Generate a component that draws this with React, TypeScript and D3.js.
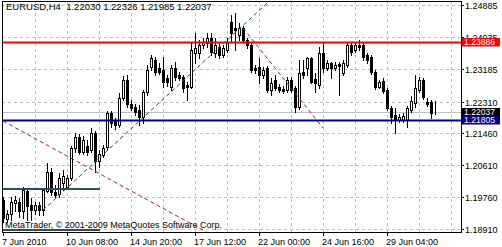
import React from "react";
import * as d3 from "d3";

const W = 502;
const H = 247;

const titleText = "EURUSD,H4  1.22030 1.22326 1.21985 1.22037";
const copyrightText = "MetaTrader, \u00A9 2001-2009 MetaQuotes Software Corp.";

// H4 candles, bar index 0..108
const opens = [
  1.19683, 1.19176, 1.1931, 1.19603, 1.1963, 1.1939, 1.19923, 1.1955, 1.19416, 1.1955,
  1.19416, 1.19923, 1.2043, 1.19897, 1.19843, 1.20137, 1.2003, 1.2027, 1.2107, 1.21364,
  1.20963, 1.21124, 1.21017, 1.2147, 1.20723, 1.20883, 1.21097, 1.22004, 1.2179, 1.21684,
  1.22404, 1.22884, 1.22244, 1.22164, 1.22084, 1.21897, 1.22564, 1.23231, 1.23418, 1.23204,
  1.23151, 1.22937, 1.22697, 1.23204, 1.23017, 1.22964, 1.22751, 1.22697, 1.23604, 1.23604,
  1.23818, 1.23871, 1.24004, 1.23604, 1.23764, 1.23551, 1.23684, 1.24431, 1.24271, 1.24084,
  1.24271, 1.23951, 1.23818, 1.23204, 1.23231, 1.23017, 1.23204, 1.22617, 1.22884, 1.22697,
  1.22644, 1.22617, 1.22884, 1.22671, 1.22164, 1.23097, 1.23204, 1.23471, 1.22911, 1.22751,
  1.23604, 1.23204, 1.23338, 1.23204, 1.23311, 1.23071, 1.23284, 1.23818, 1.23684, 1.23818,
  1.23818, 1.23551, 1.23498, 1.23097, 1.22697, 1.22857, 1.22617, 1.22137, 1.2195, 1.21817,
  1.21817, 1.21817, 1.22084, 1.22271, 1.22617, 1.22884, 1.22297, 1.22297, 1.2203,
];
const highs = [
  1.19763, 1.19416, 1.19763, 1.1979, 1.19737, 1.2003, 1.20003, 1.19737, 1.1963, 1.1963,
  1.20003, 1.2067, 1.20537, 1.20083, 1.20403, 1.20483, 1.2035, 1.21124, 1.2147, 1.21444,
  1.2139, 1.21284, 1.21604, 1.21524, 1.21017, 1.2115, 1.22057, 1.22057, 1.2187, 1.22537,
  1.22991, 1.23017, 1.22351, 1.22244, 1.22217, 1.22617, 1.23284, 1.23551, 1.23498, 1.23338,
  1.23498, 1.23017, 1.23284, 1.23364, 1.23097, 1.23017, 1.22831, 1.23898, 1.24138, 1.23951,
  1.24004, 1.24138, 1.24138, 1.24004, 1.23898, 1.23818, 1.24004, 1.24618, 1.24671, 1.24404,
  1.24324, 1.24004, 1.23871, 1.23284, 1.23471, 1.23231, 1.23258, 1.22937, 1.23017, 1.22777,
  1.22724, 1.22964, 1.22964, 1.22724, 1.23418, 1.23418, 1.23498, 1.23498, 1.23071, 1.23764,
  1.23871, 1.23418, 1.23364, 1.23364, 1.23364, 1.23418, 1.23898, 1.23898, 1.23898, 1.23951,
  1.23871, 1.23604, 1.23551, 1.23151, 1.22884, 1.22937, 1.22671, 1.22191, 1.22137, 1.21977,
  1.22004, 1.22191, 1.22457, 1.23017, 1.22964, 1.22937, 1.22404, 1.22351, 1.22326,
];
const lows = [
  1.19096, 1.19096, 1.1915, 1.1939, 1.1923, 1.19203, 1.1915, 1.1915, 1.1931, 1.19283,
  1.19283, 1.19897, 1.19817, 1.19763, 1.19763, 1.1995, 1.19977, 1.20217, 1.20963, 1.2091,
  1.2091, 1.20883, 1.20963, 1.2043, 1.20563, 1.2083, 1.21017, 1.2163, 1.21577, 1.2163,
  1.22351, 1.22164, 1.22084, 1.2195, 1.21684, 1.21737, 1.22484, 1.23151, 1.23017, 1.23044,
  1.22697, 1.22724, 1.22617, 1.22884, 1.22884, 1.22564, 1.22351, 1.22671, 1.23338, 1.23471,
  1.23738, 1.23764, 1.23551, 1.23498, 1.23471, 1.23498, 1.23631, 1.23898, 1.23684, 1.23951,
  1.23871, 1.23738, 1.23097, 1.23071, 1.22804, 1.22937, 1.22564, 1.22484, 1.22617, 1.22564,
  1.22537, 1.22564, 1.22564, 1.22031, 1.22111, 1.22937, 1.23017, 1.22804, 1.22564, 1.22671,
  1.23097, 1.23151, 1.22937, 1.23151, 1.22484, 1.23017, 1.23231, 1.23551, 1.23631, 1.23684,
  1.23418, 1.23338, 1.23044, 1.22644, 1.22671, 1.22537, 1.22084, 1.21737, 1.2147, 1.21764,
  1.21764, 1.2163, 1.22031, 1.22164, 1.22564, 1.22377, 1.22191, 1.2187, 1.21985,
];
const closes = [
  1.19203, 1.1931, 1.1963, 1.19683, 1.1939, 1.1995, 1.19523, 1.19416, 1.1955, 1.19416,
  1.1995, 1.2043, 1.19897, 1.19817, 1.2027, 1.20323, 1.2027, 1.2107, 1.21364, 1.20963,
  1.21284, 1.20963, 1.2147, 1.20723, 1.2091, 1.2107, 1.22004, 1.21737, 1.21684, 1.22404,
  1.22884, 1.22244, 1.22137, 1.22031, 1.21897, 1.22564, 1.23151, 1.23471, 1.23097, 1.23097,
  1.22831, 1.22831, 1.23204, 1.22964, 1.22937, 1.22671, 1.22697, 1.23684, 1.23738, 1.23818,
  1.23898, 1.24004, 1.23631, 1.23818, 1.23551, 1.23738, 1.23871, 1.24138, 1.24218, 1.24271,
  1.23951, 1.23818, 1.23151, 1.23151, 1.23017, 1.23151, 1.22617, 1.22804, 1.22671, 1.22617,
  1.22591, 1.22884, 1.22617, 1.22164, 1.23071, 1.23017, 1.23471, 1.22831, 1.22804, 1.23604,
  1.23204, 1.23338, 1.23204, 1.23284, 1.23258, 1.23338, 1.23818, 1.23631, 1.23818, 1.23764,
  1.23498, 1.23418, 1.23097, 1.22697, 1.22831, 1.22591, 1.22137, 1.21897, 1.21844, 1.21897,
  1.21924, 1.22137, 1.22324, 1.22671, 1.22884, 1.22431, 1.22244, 1.22004, 1.22037,
];

const yTicks = [1.24885, 1.24035, 1.23185, 1.2231, 1.2146, 1.2061, 1.1976, 1.1891];
const xTickIdx = [0, 16, 32, 48, 64, 80, 96];
const xTickLabels = [
  "7 Jun 2010",
  "10 Jun 08:00",
  "14 Jun 20:00",
  "17 Jun 12:00",
  "22 Jun 00:00",
  "24 Jun 16:00",
  "29 Jun 04:00",
];
const gridIdx = [8, 16, 24, 32, 40, 48, 56, 64, 72, 80, 88, 96, 104, 112];

const redLevel = 1.23886;
const blueLevel = 1.21805;
const bidPrice = 1.22037;
const slateLevels = [1.19977, 1.18884];
const slateFrom = -1;
const slateTo = 24.25;

const trendStarts = [
  [10, 1.19416],
  [0, 1.2179],
  [60, 1.24271],
];
const trendEnds = [
  [60, 1.2434],
  [48, 1.18995],
  [80, 1.21604],
];
const trendRays = [true, true, false];
const trendColors = ["#116b11", "#b8123a", "#b8123a"];

const FONT = "'Liberation Sans', Arial, sans-serif";

export default function App() {
  const left = 2;
  const right = 461;
  const top = 1;
  const bottom = 232;

  const x = d3.scaleLinear().domain([0, 108]).range([3, 435]);
  const y = d3.scaleLinear().domain([1.1891, 1.24885]).range([229, 5]);
  const py = (p: number) => Math.round(y(p));
  const px = (i: number) => Math.round(x(i));

  const candles = opens.map((o, i) => ({
    o,
    h: highs[i],
    l: lows[i],
    c: closes[i],
    i,
  }));

  const trendPaths = trendStarts.map((s, k) => {
    const e = trendEnds[k];
    let i2 = e[0];
    let p2 = e[1];
    if (trendRays[k]) {
      const slope = (e[1] - s[1]) / (e[0] - s[0]);
      i2 = 200;
      p2 = s[1] + slope * (i2 - s[0]);
    }
    return d3.line()([
      [x(s[0]), y(s[1])],
      [x(i2), y(p2)],
    ]);
  });

  const priceBox = (price: number, fill: string, key: string) => {
    const cy = Math.round(y(price));
    return (
      <g key={key}>
        <rect x={462} y={cy - 4} width={38} height={8.5} fill={fill} />
        <text x={464} y={cy + 3.3} fontSize={8.6} fill="#ffffff" fontFamily={FONT}>
          {price.toFixed(5)}
        </text>
      </g>
    );
  };

  return (
    <svg
      width={W}
      height={H}
      style={{ position: "absolute", left: 0, top: 0, background: "#ffffff" }}
    >
      <defs>
        <clipPath id="plot">
          <rect x={left + 1} y={top + 1} width={right - left - 1} height={bottom - top - 1} />
        </clipPath>
      </defs>
      <rect x={0} y={0} width={W} height={H} fill="#ffffff" />

      {/* grid */}
      <g stroke="#c0c0c0" strokeWidth={1} strokeDasharray="3,3" clipPath="url(#plot)">
        {yTicks.map((t) => (
          <line key={"hy" + t} x1={left} x2={right} y1={py(t) + 0.5} y2={py(t) + 0.5} />
        ))}
        {gridIdx.map((g) => (
          <line key={"vx" + g} x1={px(g) + 0.5} x2={px(g) + 0.5} y1={top} y2={bottom} />
        ))}
      </g>

      {/* bid line */}
      <line
        x1={left}
        x2={right}
        y1={py(bidPrice) + 0.5}
        y2={py(bidPrice) + 0.5}
        stroke="#c0c0c0"
        strokeWidth={1}
      />

      {/* candles */}
      <g clipPath="url(#plot)">
        {candles.map((d) => {
          const cx = px(d.i);
          const bull = d.c >= d.o;
          const yt = py(Math.max(d.o, d.c));
          const yb = py(Math.min(d.o, d.c));
          return (
            <g key={d.i}>
              <line
                x1={cx + 0.5}
                x2={cx + 0.5}
                y1={py(d.h)}
                y2={py(d.l) + 1}
                stroke="#000000"
                strokeWidth={1}
              />
              <rect
                x={cx - 0.5}
                y={yt + 0.5}
                width={2}
                height={Math.max(yb - yt, 0)}
                fill={bull ? "#ffffff" : "#000000"}
                stroke="#000000"
                strokeWidth={1}
              />
            </g>
          );
        })}
      </g>

      {/* objects */}
      <g clipPath="url(#plot)">
        <line
          x1={left}
          x2={right}
          y1={y(redLevel)}
          y2={y(redLevel)}
          stroke="#ff0000"
          strokeWidth={2}
        />
        <line
          x1={left}
          x2={right}
          y1={y(blueLevel)}
          y2={y(blueLevel)}
          stroke="#000080"
          strokeWidth={2}
        />
        {slateLevels.map((lv) => (
          <line
            key={"sl" + lv}
            x1={x(slateFrom)}
            x2={x(slateTo)}
            y1={y(lv)}
            y2={y(lv)}
            stroke="#2f4f4f"
            strokeWidth={2}
          />
        ))}
        {trendPaths.map((d, k) => (
          <path
            key={"tr" + k}
            d={d || ""}
            fill="none"
            stroke={trendColors[k]}
            strokeWidth={1}
            strokeDasharray="4,3"
          />
        ))}
      </g>

      {/* frame */}
      <rect
        x={left + 0.5}
        y={top + 0.5}
        width={right - left}
        height={bottom - top}
        fill="none"
        stroke="#000000"
        strokeWidth={1}
      />

      {/* y axis */}
      <g fontFamily={FONT} fontSize={9} fill="#000000">
        {yTicks.map((t) => (
          <g key={"yt" + t}>
            <line x1={right} x2={right + 3} y1={py(t) + 0.5} y2={py(t) + 0.5} stroke="#000000" />
            <text x={465} y={py(t) + 3.5}>
              {t.toFixed(5)}
            </text>
          </g>
        ))}
      </g>
      {priceBox(redLevel, "#ff0000", "rb")}
      {priceBox(bidPrice, "#000000", "bb")}
      {priceBox(blueLevel, "#000080", "nb")}

      {/* x axis */}
      <g fontFamily={FONT} fontSize={9} fill="#000000">
        {xTickIdx.map((t, k) => (
          <g key={"xt" + t}>
            <line
              x1={px(t) + 0.5}
              x2={px(t) + 0.5}
              y1={bottom}
              y2={bottom + 4}
              stroke="#000000"
            />
            <text x={px(t) - 1} y={245}>
              {xTickLabels[k]}
            </text>
          </g>
        ))}
      </g>

      {/* texts */}
      <text x={6} y={10} fontFamily={FONT} fontSize={9.5} fill="#000000" style={{ whiteSpace: "pre" }}>
        {titleText}
      </text>
      <text x={5} y={228} fontFamily={FONT} fontSize={9} fill="#000000">
        {copyrightText}
      </text>
    </svg>
  );
}
